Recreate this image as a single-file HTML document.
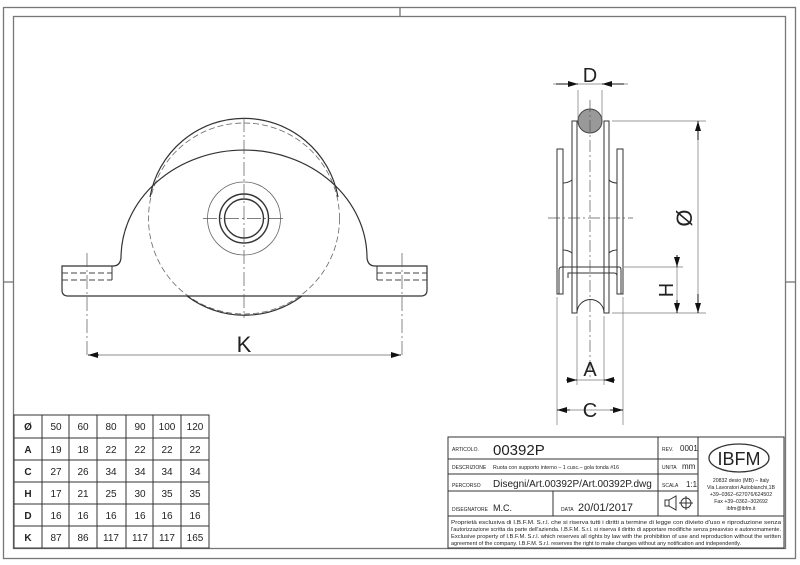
<!DOCTYPE html>
<html><head><meta charset="utf-8"><style>
html,body{margin:0;padding:0;background:#fff}
svg{display:block}
text{font-family:"Liberation Sans",Arial,sans-serif;fill:#222}
</style></head><body>
<svg width="800" height="565" viewBox="0 0 800 565" xmlns="http://www.w3.org/2000/svg">
<defs>
<marker id="ar" markerWidth="10" markerHeight="6" refX="10" refY="3" orient="auto" markerUnits="userSpaceOnUse"><path d="M0,0 L10,3 L0,6 z" fill="#111"/></marker>
</defs>
<g fill="none" stroke="#777" stroke-width="1.3">
<rect x="3.5" y="7.5" width="792" height="551"/>
<rect x="13.5" y="16.5" width="772" height="532"/>
<line x1="400" y1="7" x2="400" y2="16"/>
<line x1="3" y1="282" x2="13" y2="282"/>
<line x1="786" y1="282" x2="795" y2="282"/>
</g>

<!-- LEFT VIEW -->
<g fill="none" stroke="#333" stroke-width="1">
<circle cx="244" cy="218.5" r="95.5" stroke-dasharray="6,3" stroke="#666" stroke-width="0.8"/>
<path d="M150,197 A95.5,95.5 0 0 1 338,197" stroke-width="1.2"/>
<path d="M187,296 A95.5,95.5 0 0 0 302,296" stroke-width="1.2"/>
<path d="M62,266 L113,266 Q120,266 121,258 A123,108 0 0 1 367,258 Q368,266 375,266 L427,266 L427,290 Q427,296 421,296 L68,296 Q62,296 62,290 Z" stroke-width="1.2"/>
<path d="M62,273 L112,273 M62,280 L112,280 M377,273 L427,273 M377,280 L427,280" stroke-dasharray="6,3" stroke="#444"/>
<path d="M112,266 L112,280 M377,266 L377,280"/>
<circle cx="244" cy="218.5" r="36.5" stroke="#666" stroke-width="0.8"/>
<circle cx="244" cy="218.5" r="24.5" stroke-width="1.4"/>
<circle cx="244" cy="218.5" r="19.5" stroke-width="1.4"/>
<path d="M244,118 L244,318 M203,218.5 L286,218.5 M87,253 L87,358 M402,253 L402,358" stroke="#555" stroke-width="0.7" stroke-dasharray="14,3,2,3"/>
<line x1="89" y1="355" x2="400" y2="355" stroke="#666" stroke-width="0.8"/>
</g>
<line x1="99" y1="355" x2="88" y2="355" stroke="#111" marker-end="url(#ar)"/>
<line x1="391" y1="355" x2="401" y2="355" stroke="#111" marker-end="url(#ar)"/>
<text x="244" y="352" font-size="22" text-anchor="middle">K</text>

<!-- RIGHT VIEW -->
<g fill="none" stroke="#333" stroke-width="1">
<rect x="557" y="149" width="6" height="145"/>
<rect x="617" y="149" width="6" height="145"/>
<path d="M572,121 L577,121 L577,313 L572,313 Z M604,121 L609,121 L609,313 L604,313 Z"/>
<path d="M563,183 Q568,183 572,180 M563,250 Q568,250 572,253 M617,183 Q612,183 609,180 M617,250 Q612,250 609,253"/>
<path d="M559,294 L559,270 Q559,267 562,267 L619,267 Q621,267 621,270 L621,294 M568,278 L568,273 L614,273 Q617,273 617,276"/>
<path d="M577,313 A13.5,13.5 0 0 1 604,313"/>
<circle cx="590" cy="121" r="12" fill="#999" stroke="#444"/>
<path d="M590,100 L590,380 M548,218 L633,218" stroke="#555" stroke-width="0.7" stroke-dasharray="12,3,2,3"/>
<path d="M578,90 L578,119 M602,90 L602,119 M553,84 L628,84" stroke="#777" stroke-width="0.7"/>
<path d="M612,121 L706,121 M612,313 L706,313 M624,267 L683,267" stroke="#777" stroke-width="0.7"/>
<path d="M698,121 L698,313 M677,255 L677,313" stroke="#777" stroke-width="0.7"/>
<path d="M577,316 L577,385 M604,316 L604,385 M557,297 L557,425 M623,297 L623,425 M567,380 L614,380 M557,410 L623,410" stroke="#777" stroke-width="0.7"/>
</g>
<g stroke="#111">
<line x1="556" y1="84" x2="578" y2="84" marker-end="url(#ar)"/>
<line x1="624" y1="84" x2="602" y2="84" marker-end="url(#ar)"/>
<line x1="698" y1="140" x2="698" y2="121" marker-end="url(#ar)"/>
<line x1="698" y1="294" x2="698" y2="313" marker-end="url(#ar)"/>
<line x1="677" y1="255" x2="677" y2="267" marker-end="url(#ar)"/>
<line x1="677" y1="300" x2="677" y2="313" marker-end="url(#ar)"/>
<line x1="566" y1="380" x2="577" y2="380" marker-end="url(#ar)"/>
<line x1="615" y1="380" x2="604" y2="380" marker-end="url(#ar)"/>
<line x1="570" y1="410" x2="557" y2="410" marker-end="url(#ar)"/>
<line x1="610" y1="410" x2="623" y2="410" marker-end="url(#ar)"/>
</g>
<text x="590" y="82" font-size="20" text-anchor="middle">D</text>
<text x="590" y="376" font-size="20" text-anchor="middle">A</text>
<text x="590" y="417" font-size="20" text-anchor="middle">C</text>
<text transform="translate(692,218) rotate(-90)" font-size="22" text-anchor="middle">Ø</text>
<text transform="translate(673,290) rotate(-90)" font-size="20" text-anchor="middle">H</text>

<!-- TABLE -->
<g fill="none" stroke="#333" stroke-width="1">
<rect x="14" y="415" width="195" height="133"/>
<path d="M42,415V548M69,415V548M97,415V548M126,415V548M153,415V548M181,415V548"/>
<path d="M14,438H209M14,460H209M14,482H209M14,504H209M14,526H209"/>
</g>
<g font-size="10" text-anchor="middle">
<text x="28" y="430" font-weight="bold">Ø</text><text x="56" y="430">50</text><text x="83" y="430">60</text><text x="111" y="430">80</text><text x="140" y="430">90</text><text x="167" y="430">100</text><text x="195" y="430">120</text>
<text x="28" y="453" font-weight="bold">A</text><text x="56" y="453">19</text><text x="83" y="453">18</text><text x="111" y="453">22</text><text x="140" y="453">22</text><text x="167" y="453">22</text><text x="195" y="453">22</text>
<text x="28" y="475" font-weight="bold">C</text><text x="56" y="475">27</text><text x="83" y="475">26</text><text x="111" y="475">34</text><text x="140" y="475">34</text><text x="167" y="475">34</text><text x="195" y="475">34</text>
<text x="28" y="497" font-weight="bold">H</text><text x="56" y="497">17</text><text x="83" y="497">21</text><text x="111" y="497">25</text><text x="140" y="497">30</text><text x="167" y="497">35</text><text x="195" y="497">35</text>
<text x="28" y="519" font-weight="bold">D</text><text x="56" y="519">16</text><text x="83" y="519">16</text><text x="111" y="519">16</text><text x="140" y="519">16</text><text x="167" y="519">16</text><text x="195" y="519">16</text>
<text x="28" y="541" font-weight="bold">K</text><text x="56" y="541">87</text><text x="83" y="541">86</text><text x="111" y="541">117</text><text x="140" y="541">117</text><text x="167" y="541">117</text><text x="195" y="541">165</text>
</g>

<!-- TITLE BLOCK -->
<g fill="none" stroke="#333" stroke-width="1">
<rect x="448" y="437" width="336" height="111"/>
<path d="M448,459H698M448,474H698M448,491H698M448,516H784M658,437V516M698,437V516M553,491V516"/>
<ellipse cx="739" cy="458" rx="30" ry="14" stroke-width="1.3"/>
<path d="M669,500 L676,496 L676,510 L669,506 Z M669,500 L665,500 L665,506 L669,506"/>
<circle cx="686" cy="503" r="5"/><path d="M679,503H693M686,496V510"/>
</g>
<g font-size="5">
<text x="452" y="451">ARTICOLO.</text>
<text x="452" y="469">DESCRIZIONE</text>
<text x="493" y="469" font-size="5.3">Ruota con supporto interno – 1 cusc.– gola tonda #16</text>
<text x="452" y="487">PERCORSO</text>
<text x="452" y="511">DISEGNATORE</text>
<text x="561" y="511">DATA</text>
<text x="662" y="451">REV.</text><text x="680" y="451" font-size="8">0001</text>
<text x="662" y="469">UNITA</text><text x="682" y="469" font-size="8">mm</text>
<text x="662" y="487">SCALA</text><text x="686" y="487" font-size="8">1:1</text>
</g>
<text x="493" y="455" font-size="15" fill="#444">00392P</text>
<text x="493" y="487" font-size="10">Disegni/Art.00392P/Art.00392P.dwg</text>
<text x="493" y="511" font-size="9">M.C.</text>
<text x="578" y="511" font-size="11">20/01/2017</text>
<text x="739" y="465" font-size="18" text-anchor="middle" font-family="Liberation Serif">IBFM</text>
<g font-size="5.2" text-anchor="middle">
<text x="741" y="482">20832 desio (MB) – Italy</text>
<text x="741" y="489">Via Lavoratori Autobianchi,1B</text>
<text x="741" y="496">+39–0362–627076/624502</text>
<text x="741" y="503">Fax +39–0362–302692</text>
<text x="741" y="510">ibfm@ibfm.it</text>
</g>
<g font-size="5">
<text x="451" y="524" textLength="330" lengthAdjust="spacingAndGlyphs">Proprietà esclusiva di I.B.F.M. S.r.l. che si riserva tutti i diritti a termine di legge con divieto d'uso e riproduzione senza</text>
<text x="451" y="531" textLength="330" lengthAdjust="spacingAndGlyphs">l'autorizzazione scritta da parte dell'azienda. I.B.F.M. S.r.l. si riserva il diritto di apportare modifiche senza preavviso e autonomamente.</text>
<text x="451" y="538" textLength="330" lengthAdjust="spacingAndGlyphs">Exclusive property of I.B.F.M. S.r.l. which reserves all rights by law with the prohibition of use and reproduction without the written</text>
<text x="451" y="545" textLength="290" lengthAdjust="spacingAndGlyphs">agreement of the company. I.B.F.M. S.r.l. reserves the right to make changes without any notification and independently.</text>
</g>
</svg>
</body></html>
